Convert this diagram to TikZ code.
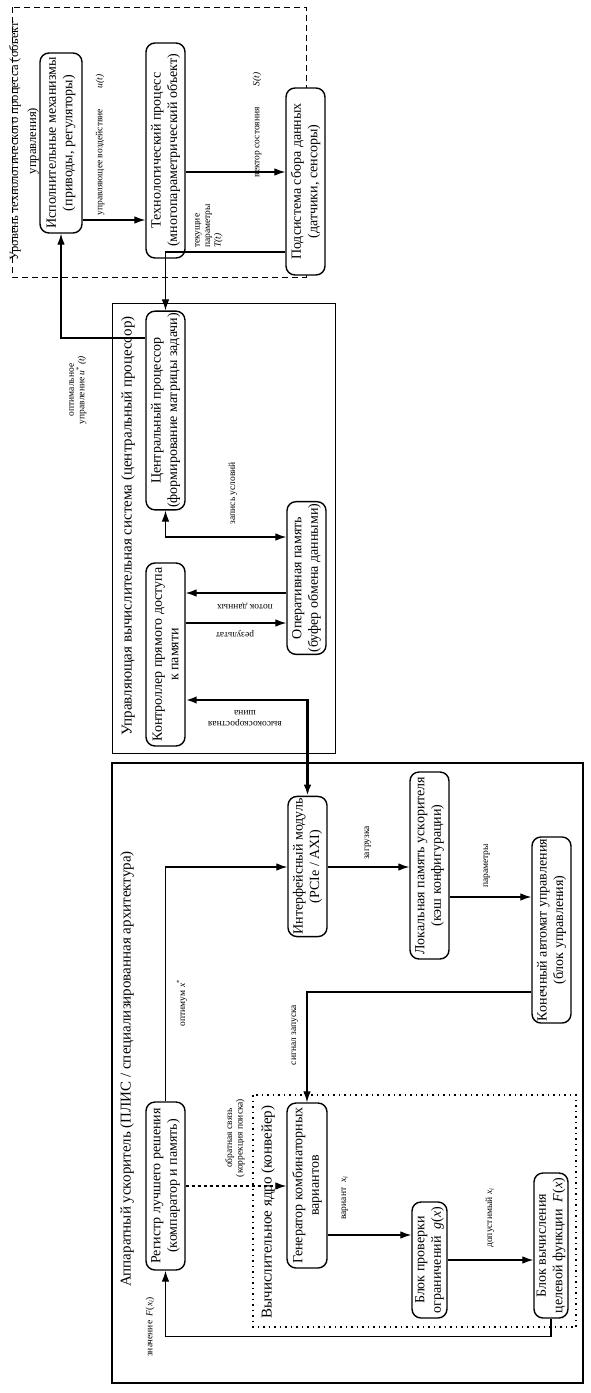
\documentclass[tikz,border=0pt]{standalone}
\usepackage{fontspec}
\setmainfont{Liberation Serif}
\usetikzlibrary{arrows.meta}

\begin{document}
\begin{tikzpicture}[x=1pt, y=-1pt, >={Latex[length=11pt,width=7.5pt]}, line width=1.1pt,
  blk/.style={draw, fill=white, rectangle, rounded corners=9pt, align=center, rotate=90, line width=1.4pt, inner sep=2pt, font=\fontsize{14}{16.5}\selectfont},
  lbl/.style={align=center, inner sep=0pt, font=\fontsize{9.5}{10.5}\selectfont},
  vl/.style={lbl, rotate=90},
  hl/.style={lbl, rotate=180},
  ttl/.style={rotate=90, align=center, inner sep=0pt, font=\fontsize{15}{18}\selectfont}]
\useasboundingbox (0,0) rectangle (590,1393);

\draw[dash pattern=on 6pt off 4pt, line width=1pt] (12,7) rectangle (306,277);
\draw[line width=1pt] (112,303) rectangle (335,753);
\draw[line width=2.2pt] (112,763) rectangle (583,1383);
\draw[dash pattern=on 1.5pt off 4pt, line width=1.5pt] (253,1095) rectangle (576,1327);

\node[ttl, font=\fontsize{12.6}{18}\selectfont] (t1) at (24,141) {Уровень технологического процесса (объект\\управления)};
\node[ttl] (t2) at (128,526) {Управляющая вычислительная система (центральный процессор)};
\node[ttl] (t3) at (127,1069) {Аппаратный ускоритель (ПЛИС / специализированная архитектура)};
\node[ttl] (t4) at (268,1212) {Вычислительное ядро (конвейер)};

\node[blk, minimum width=180pt, minimum height=42pt] (isp) at (61,143) {Исполнительные механизмы\\(приводы, регуляторы)};
\node[blk, minimum width=215pt, minimum height=39pt] (tech) at (165.5,150.5) {Технологический процесс\\(многопараметрический объект)};
\node[blk, minimum width=187pt, minimum height=39pt] (sens) at (305.5,181.5) {Подсистема сбора данных\\(датчики, сенсоры)};
\node[blk, minimum width=197pt, minimum height=39pt] (cpu) at (165.5,410.5) {Центральный процессор\\(формирование матрицы задачи)};
\node[blk, minimum width=150pt, minimum height=39pt] (ram) at (306.5,578) {Оперативная память\\(буфер обмена данными)};
\node[blk, minimum width=183pt, minimum height=39pt] (dma) at (165.5,654.5) {Контроллер прямого доступа\\к памяти};
\node[blk, minimum width=137pt, minimum height=39pt] (iface) at (307.5,866.5) {Интерфейсный модуль\\(PCIe / AXI)};
\node[blk, minimum width=187pt, minimum height=39pt] (lmem) at (429.5,865.5) {Локальная память ускорителя\\(кэш конфигурации)};
\node[blk, minimum width=186pt, minimum height=39pt] (fsm) at (551.5,930) {Конечный автомат управления\\(блок управления)};
\node[blk, minimum width=168pt, minimum height=39pt] (reg) at (165.5,1186) {Регистр лучшего решения\\(компаратор и память)};
\node[blk, minimum width=165pt, minimum height=40pt] (gen) at (307,1185.5) {Генератор комбинаторных\\вариантов};
\node[blk, minimum width=116pt, minimum height=35pt] (chk) at (429.5,1260) {Блок проверки\\ограничений \ \textit{g}(\textit{x})};
\node[blk, minimum width=145pt, minimum height=34pt] (obj) at (551,1245.5) {Блок вычисления\\целевой функции \ \textit{F}(\textit{x})};

\node[vl] (lu) at (100,145) {управляющее воздействие\hspace{2.2em}\textit{u(t)}};
\node[vl] (ls) at (257,125) {вектор состояния\hspace{2.2em}\textit{S(t)}};
\node[vl, align=left] (lt) at (209,226) {текущие\\параметры\\\textit{T(t)}};
\node[vl] (lo) at (78,390) {оптимальное\\управление \textit{u}\textsuperscript{*}\,\textit{(t)}};
\node[vl] (lw) at (233,493) {запись условий};
\node[hl] (lf) at (245,606) {поток данных};
\node[hl] (lr) at (235,634) {результат};
\node[hl] (lb) at (245,718) {высокоскоростная\\шина};
\node[vl] (ll) at (368,843) {загрузка};
\node[vl] (lp) at (487,866) {параметры};
\node[vl] (lsig) at (295,1035) {сигнал запуска};
\node[vl] (lx) at (182,1003) {оптимум \textit{x}\textsuperscript{*}};
\node[vl] (lfb) at (235,1138) {обратная связь\\(коррекция поиска)};
\node[vl] (lvar) at (345,1198) {вариант \ \textit{x}\textsubscript{\textit{i}}};
\node[vl] (ladm) at (490,1218) {допустимый \textit{x}\textsubscript{\textit{i}}};
\node[vl] (lval) at (150,1327) {значение \ \textit{F}(\textit{x}\textsubscript{\textit{i}})};

\draw[->] (isp.south |- 0,220) -- (tech.north |- 0,220);
\draw[->] (tech.south |- 0,172) -- (sens.north |- 0,172);
\draw[->] (sens.north |- 0,252) -| (cpu.east);
\draw[->] (cpu.north |- 0,338) -| (isp.west);
\draw[<->] (cpu.west) |- (ram.north |- 0,537);
\draw[->] (ram.north |- 0,593) -- (dma.south |- 0,593);
\draw[->] (dma.south |- 0,623) -- (ram.north |- 0,623);
\draw[<->, line width=2.4pt] (dma.south |- 0,700) -| (iface.east);
\draw[->] (iface.south |- 0,867) -- (lmem.north |- 0,867);
\draw[->] (lmem.south |- 0,897) -- (fsm.north |- 0,897);
\draw[->] (fsm.north |- 0,992) -| (gen.east);
\draw[->] (reg.east) |- (iface.north |- 0,867);
\draw[->, dashed] (reg.south |- 0,1186) -- (gen.north |- 0,1186);
\draw[->] (gen.south |- 0,1235) -- (chk.north |- 0,1235);
\draw[->] (chk.south |- 0,1260) -- (obj.north |- 0,1260);
\draw[->] (obj.west) -- ++(0,18) -| (reg.west);
\end{tikzpicture}
\end{document}
